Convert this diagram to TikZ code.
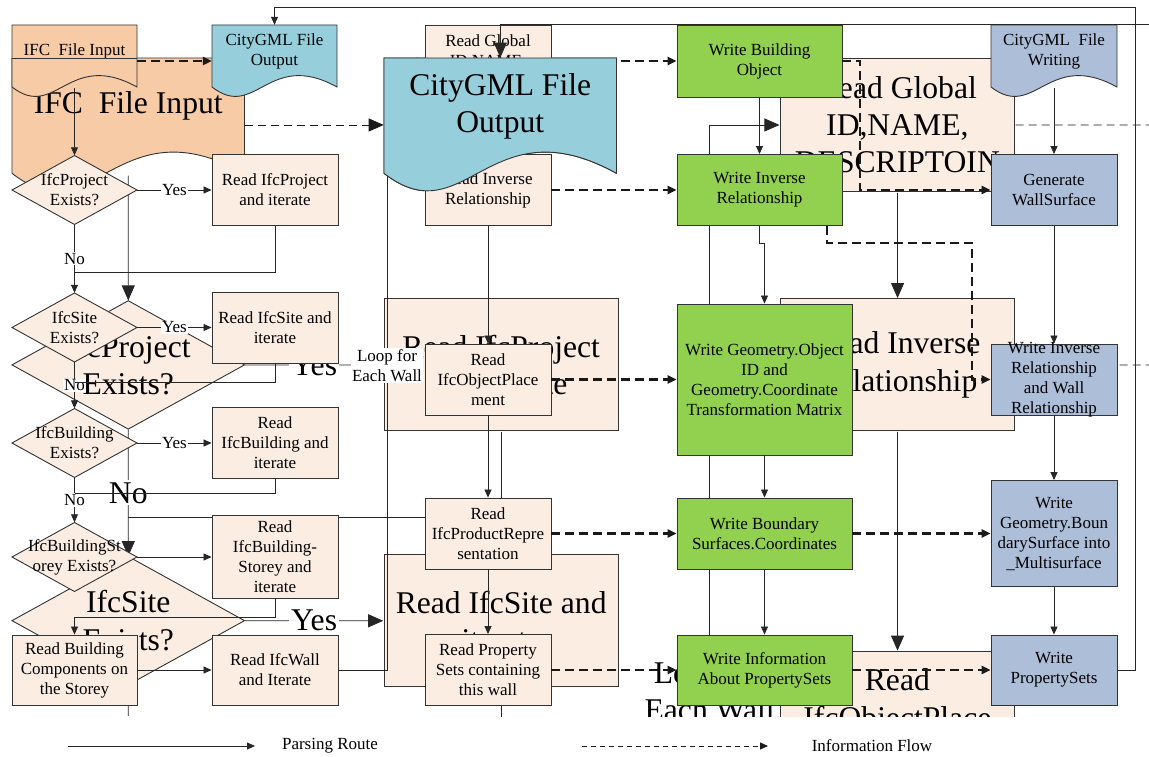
\documentclass[tikz,border=0pt]{standalone}
\usepackage{fontspec}
\setmainfont{Liberation Serif}
\usetikzlibrary{arrows.meta}
\definecolor{peach}{RGB}{252,237,227}
\definecolor{orangef}{RGB}{248,203,167}
\definecolor{cyanb}{RGB}{150,206,220}
\definecolor{lgreen}{RGB}{146,208,80}
\definecolor{steel}{RGB}{173,190,217}
\newcommand\nf{\fontsize{17}{20}\selectfont}
\newcommand\mydoc[7]{%
 \path[docline,fill=#6] (#3,#4) -- ({#3+#5},#4) -- ({#3+#5},{#4+62}) .. controls ({#3+0.45*#5},{#4+24}) and ({#3+0.35*#5},{#4+96}) .. (#3,{#4+62}) -- cycle;
 \node[docbox, minimum width=#5] (#1) at ({#3+#5/2},{#4+31.5}) {};
 \node[plaintext] (#2) at ({#3+#5/2},{#4+26}) {#7};
}
\newcommand\mydia[4]{%
 \path[dialine] ({#2-62.5},#3) -- (#2,{#3-34.5}) -- ({#2+62.5},#3) -- (#2,{#3+34.5}) -- cycle;
 \node[diatext] (#1) at (#2,#3) {#4};
}
\newcommand\drawall{%
 \mydoc{ifc}{ifct}{12}{25}{125}{orangef}{IFC\ \ File Input}
 \mydoc{cgo}{cgot}{212}{25}{125}{cyanb}{CityGML File\\Output}
 \mydoc{cgw}{cgwt}{991}{25}{126}{steel}{CityGML\ \ File\\Writing}
 \mydia{ifcproj}{74.5}{190}{IfcProject\\Exists?}
 \mydia{ifcsite}{74.5}{327.5}{IfcSite\\Exists?}
 \mydia{ifcbld}{74.5}{443}{IfcBuilding\\Exists?}
 \mydia{ifcsto}{74.5}{557}{IfcBuildingSt\\orey Exists?}
 \node[box, minimum width=125, minimum height=70] (rbc) at (74.5,670) {Read Building\\Components on\\the Storey};
 \node[box] (rproj) at (275,190) {Read IfcProject\\and iterate};
 \node[box] (rsite) at (275,327.5) {Read IfcSite and\\iterate};
 \node[box] (rbld) at (275,443) {Read\\IfcBuilding and\\iterate};
 \node[box, minimum height=83] (rsto) at (275,556.5) {Read\\IfcBuilding-\\Storey and\\iterate};
 \node[box, minimum height=70] (rwall) at (275,670) {Read IfcWall\\and Iterate};
 \node[box, minimum height=72] (rglob) at (488,61) {Read Global\\ID,NAME,\\DESCRIPTOIN};
 \node[box] (rinv) at (488,190) {Read Inverse\\Relationship};
 \node[box] (rop) at (488,379.5) {Read\\IfcObjectPlace\\ment};
 \node[box] (rpr) at (488,533.5) {Read\\IfcProductRepre\\sentation};
 \node[box] (rps) at (488,670) {Read Property\\Sets containing\\this wall};
 \node[gbox, minimum width=165, minimum height=72] (wbo) at (759.5,61) {Write Building\\Object};
 \node[gbox, minimum width=165] (winv) at (759.5,190) {Write Inverse\\Relationship};
 \node[gbox, minimum height=151] (wgeo) at (764.5,379.5) {Write Geometry.Object\\ID and\\Geometry.Coordinate\\Transformation Matrix};
 \node[gbox] (wbs) at (764.5,533.5) {Write Boundary\\Surfaces.Coordinates};
 \node[gbox, minimum height=70] (winf) at (764.5,670) {Write Information\\About PropertySets};
 \node[sbox] (gws) at (1054,190) {Generate\\WallSurface};
 \node[sbox] (wiw) at (1054,379.5) {};
 \node[plaintext] (wiwt) at (1054,379.5) {Write Inverse\\Relationship\\and Wall\\Relationship};
 \node[sbox, minimum height=106] (wgb) at (1054,533.5) {Write\\Geometry.Boun\\darySurface into\\\_Multisurface};
 \node[sbox, minimum height=70] (wps) at (1054,670) {Write\\PropertySets};
 \coordinate (r61) at (0,61);
 \coordinate (j1) at (74.5,272);
 \coordinate (j2) at (74.5,382);
 \coordinate (j3) at (74.5,493);
 \coordinate (j4) at (74.5,617);
 \coordinate (lpb) at (387,670);
 \coordinate (lpt) at (387,61);
 \coordinate (tr) at (1135,7);
 \coordinate (k1) at (860,190);
 \coordinate (k2) at (827,243);
 \coordinate (k3) at (972,243);
 \draw[parse] (ifc) -- (ifcproj);
 \draw[flow] (ifc.east |- r61) -- (cgo.west |- r61);
 \draw[parse] (ifcproj) -- node[lbl] (y1) {Yes} (rproj);
 \draw[parse] (ifcproj) -- node[lbl] (n1) {No} (ifcsite);
 \draw[ln] (rproj.south) |- (j1);
 \draw[parse] (ifcsite) -- node[lbl] (y2) {Yes} (rsite);
 \draw[parse] (ifcsite) -- node[lbl] (n2) {No} (ifcbld);
 \draw[ln] (rsite.south) |- (j2);
 \draw[parse] (ifcbld) -- node[lbl] (y3) {Yes} (rbld);
 \draw[parse] (ifcbld) -- node[lbl] (n3) {No} (ifcsto);
 \draw[ln] (rbld.south) |- (j3);
 \draw[parse] (ifcsto.east) -- (rsto.west |- ifcsto.east);
 \draw[parse] (rsto.south) |- (j4) -- (rbc);
 \draw[parse] (rbc) -- (rwall);
 \draw[parse] (rwall.east) -- (lpb) -- node[lbl] (lp) {Loop for\\Each Wall} (lpt) -- (rglob.west);
 \draw[parse] (rglob) -- (rinv);
 \draw[parse] (rinv) -- (rop);
 \draw[parse] (rop) -- (rpr);
 \draw[parse] (rpr) -- (rps);
 \draw[parse] (wbo) -- (winv);
 \draw[parse] (winv.south) -- ++(0,17) -| (wgeo.north);
 \draw[parse] (wgeo) -- (wbs);
 \draw[parse] (wbs) -- (winf);
 \draw[parse] (cgw) -- (gws);
 \draw[parse] (gws) -- (wiw);
 \draw[parse] (wiw) -- (wgb);
 \draw[parse] (wgb) -- (wps);
 \draw[parse] (wps.east) -| (tr) -| (cgo.north);
 \draw[flow] (rglob) -- (wbo);
 \draw[flow] (rinv) -- (winv);
 \draw[flow] (rop) -- (wgeo);
 \draw[flow] (rpr) -- (wbs);
 \draw[flow] (rps) -- (winf);
 \draw[flow] (wbs) -- (wgb);
 \draw[flow] (winf) -- (wps);
 \draw[flow] (wbo.east) -| (k1) -- (gws.west);
 \draw[flow] (winv.south -| k2) -- (k2) -- (k3) |- (wiw.west);
}
\begin{document}
\begin{tikzpicture}[x=1pt,y=-1pt,
  box/.style={rectangle, draw=black!80, line width=0.9pt, fill=peach, align=center, inner sep=0pt, font=\nf, minimum width=126, minimum height=71},
  gbox/.style={box, fill=lgreen, minimum width=175},
  sbox/.style={box, fill=steel},
  docline/.style={draw=black!80, line width=0.9pt},
  dialine/.style={draw=black!80, line width=0.9pt, fill=peach},
  docbox/.style={rectangle, inner sep=0pt, minimum height=63},
  plaintext/.style={align=center, font=\nf, inner sep=0pt},
  diatext/.style={rectangle, align=center, font=\nf, inner sep=0pt, minimum width=125, minimum height=69},
  lbl/.style={fill=white, font=\nf, inner sep=1pt, align=center},
  ln/.style={draw=black!85, line width=0.8pt},
  parse/.style={ln, -{Triangle[length=8pt,width=7pt]}},
  flow/.style={draw=black!90, line width=2.4pt, dash pattern=on 9pt off 5pt, -{Triangle[length=9pt,width=8pt]}},
]
\fill[white] (0,0) rectangle (1149,757);
\useasboundingbox (0,0) rectangle (1149,757);
\begin{scope}
\clip (0,0) rectangle (1149,716);
\begin{scope}[shift={(-10.32,11.5)}, scale=1.86, transform shape, name prefix=g-,
  parse/.style={ln, -{Triangle[length=15pt,width=13pt]}},
  flow/.style={draw=black!90, line width=0.8pt, dash pattern=on 8pt off 5pt, -{Triangle[length=15pt,width=13pt]}}]
\drawall
\end{scope}
\drawall
\draw[docline] (12,58) -- (137,58);
\begin{scope}[shift={(-10.32,11.5)}, scale=1.86, transform shape, name prefix=h-,
  parse/.style={ln, -{Triangle[length=15pt,width=13pt]}}]
 \mydoc{cgo}{cgot}{212}{25}{125}{cyanb}{CityGML File\\Output}
 \coordinate (tr) at (640,7);
 \draw[parse] (tr) -| (cgo.north);
\end{scope}
\end{scope}
\coordinate (lg1) at (68,746);
\coordinate (lg2) at (255,746);
\coordinate (lg3) at (582,746);
\coordinate (lg4) at (768,746);
\draw[parse] (lg1) -- (lg2);
\draw[draw=black!90, line width=0.8pt, dash pattern=on 5pt off 4pt, -{Triangle[length=8pt,width=7pt]}] (lg3) -- (lg4);
\node[plaintext] (lgt1) at (330,746) {Parsing Route};
\node[plaintext] (lgt2) at (872,746) {Information Flow};
\end{tikzpicture}
\end{document}
